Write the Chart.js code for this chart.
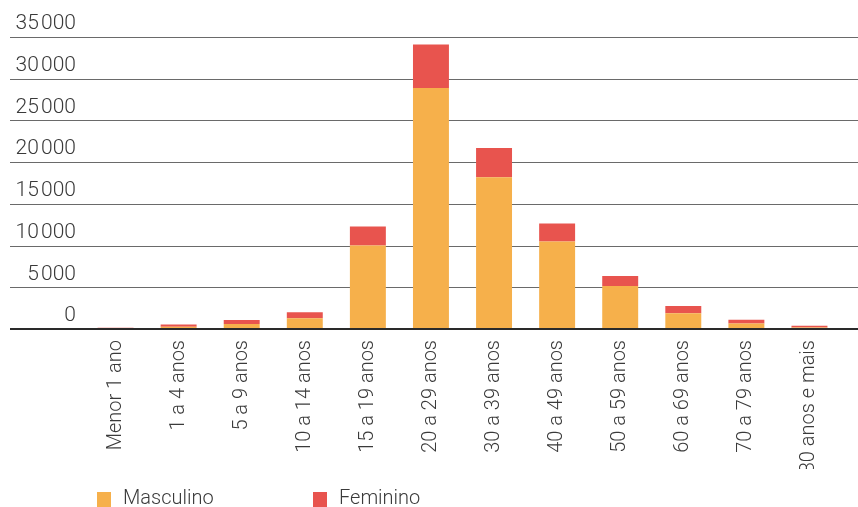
<!DOCTYPE html>
<html>
<head>
<meta charset="utf-8">
<script src="https://cdn.jsdelivr.net/npm/chart.js@4.4.1/dist/chart.umd.min.js"></script>
<style>
  html, body { margin: 0; padding: 0; background: #fff; }
  #wrap { width: 858px; height: 507px; position: relative; }
</style>
</head>
<body>
<div id="wrap"><canvas id="ageChart"></canvas></div>
<script>
const categories = ['Menor 1 ano', '1 a 4 anos', '5 a 9 anos', '10 a 14 anos', '15 a 19 anos', '20 a 29 anos',
    '30 a 39 anos', '40 a 49 anos', '50 a 59 anos', '60 a 69 anos', '70 a 79 anos', '80 anos e mais'];
const masculino = [120, 280, 600, 1300, 10000, 28900, 18200, 10500, 5150, 1900, 650, 180];
const feminino = [30, 250, 480, 700, 2300, 5200, 3500, 2150, 1200, 850, 450, 220];
const yTicks = [0, 5000, 10000, 15000, 20000, 25000, 30000, 35000];
const yTickLabels = ['0', '5\u200A000', '10\u200A000', '15\u200A000', '20\u200A000', '25\u200A000', '30\u200A000', '35\u200A000'];

const FONT = 'Roboto, "Liberation Sans", sans-serif';
const TEXT = '#3a3a3a';

// horizontal rules run across the whole width, under the tick labels
const gridLines = {
    id: 'gridLines',
    beforeDatasetsDraw(chart) {
        const y = chart.scales.y;
        const ctx = chart.ctx;
        ctx.save();
        ctx.strokeStyle = '#6a6a6a';
        ctx.lineWidth = 1;
        yTicks.forEach(v => {
            if (v === 0) return;
            const py = Math.round(y.getPixelForValue(v)) + 0.5;
            ctx.beginPath();
            ctx.moveTo(10, py);
            ctx.lineTo(chart.width, py);
            ctx.stroke();
        });
        ctx.restore();
    },
    afterDatasetsDraw(chart) {
        const y = chart.scales.y;
        const ctx = chart.ctx;
        const py = Math.round(y.getPixelForValue(0));
        ctx.save();
        ctx.strokeStyle = '#2a2a2a';
        ctx.lineWidth = 2;
        ctx.beginPath();
        ctx.moveTo(10, py);
        ctx.lineTo(chart.width, py);
        ctx.stroke();
        ctx.restore();
    }
};

// legend drawn along the bottom edge
const bottomLegend = {
    id: 'bottomLegend',
    afterDraw(chart) {
        const ctx = chart.ctx;
        const xs = [97, 313];
        ctx.save();
        ctx.font = '300 20px ' + FONT;
        ctx.textBaseline = 'middle';
        chart.data.datasets.forEach((ds, i) => {
            ctx.fillStyle = ds.backgroundColor;
            ctx.fillRect(xs[i], 492, 14, 15);
            ctx.fillStyle = TEXT;
            ctx.fillText(ds.label, xs[i] + 26, 499);
        });
        ctx.restore();
    }
};

new Chart(document.getElementById('ageChart'), {
    type: 'bar',
    data: {
        labels: categories,
        datasets: [
            { label: 'Masculino', data: masculino, backgroundColor: '#F6B04B', barPercentage: 0.57, categoryPercentage: 1 },
            { label: 'Feminino', data: feminino, backgroundColor: '#E8544E', barPercentage: 0.57, categoryPercentage: 1 }
        ]
    },
    options: {
        responsive: true,
        maintainAspectRatio: false,
        animation: false,
        layout: { padding: { top: 37, right: 17, bottom: 38, left: 0 } },
        plugins: {
            legend: { display: false },
            tooltip: { enabled: false }
        },
        scales: {
            x: {
                stacked: true,
                grid: { display: false, drawTicks: false },
                border: { display: false },
                afterFit(scale) { scale.height = 140; },
                ticks: {
                    minRotation: 90,
                    maxRotation: 90,
                    padding: 11,
                    color: TEXT,
                    font: { family: FONT, size: 20, weight: 300 }
                }
            },
            y: {
                stacked: true,
                min: 0,
                max: 35000,
                grid: { display: false, drawTicks: false },
                border: { display: false },
                afterFit(scale) { scale.width = 84; },
                afterBuildTicks(scale) { scale.ticks = yTicks.map(v => ({ value: v })); },
                ticks: {
                    padding: 8,
                    labelOffset: -13,
                    color: TEXT,
                    font: { family: FONT, size: 21, weight: 300 },
                    callback: (v) => yTickLabels[yTicks.indexOf(v)]
                }
            }
        }
    },
    plugins: [gridLines, bottomLegend]
});
</script>
</body>
</html>
